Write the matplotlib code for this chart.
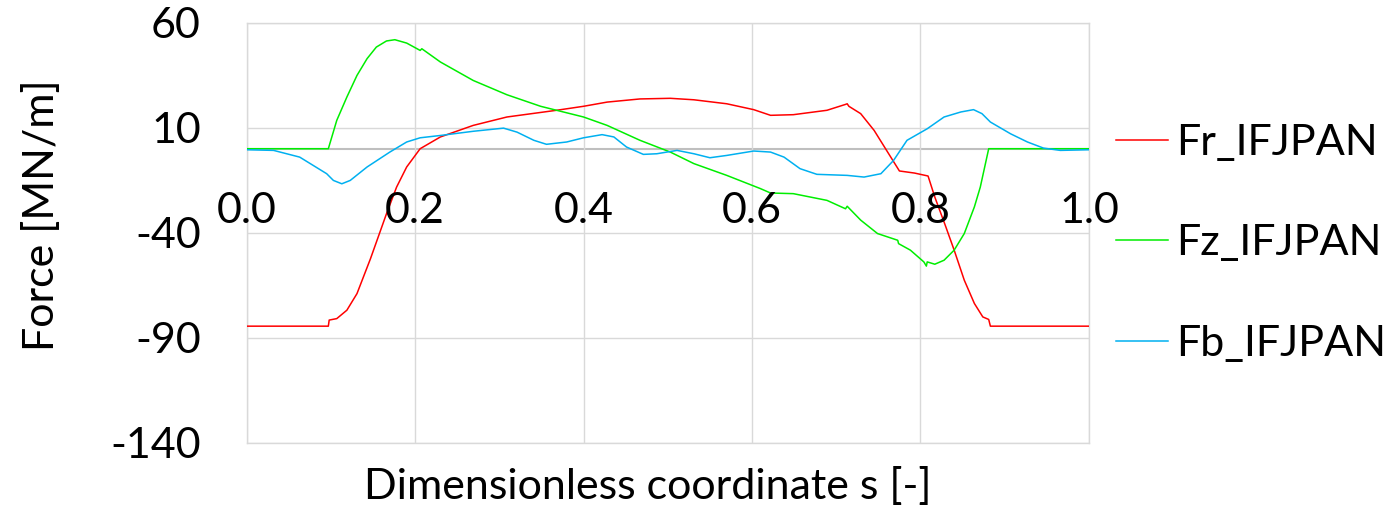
import matplotlib
matplotlib.use("Agg")
import matplotlib.pyplot as plt

# data
fr_s = [0.0, 0.097, 0.098, 0.107, 0.119, 0.131, 0.147, 0.166, 0.178, 0.190, 0.206,
        0.230, 0.269, 0.309, 0.368, 0.400, 0.428, 0.467, 0.503, 0.531, 0.570, 0.602,
        0.622, 0.649, 0.689, 0.711, 0.713, 0.715, 0.729, 0.745, 0.761, 0.775, 0.793,
        0.809, 0.817, 0.829, 0.840, 0.852, 0.864, 0.874, 0.881, 0.883, 1.0]
fr_v = [-84.5, -84.5, -81.6, -80.9, -76.9, -69.0, -52.4, -31.0, -18.3, -8.7, 0.0,
        5.6, 11.1, 15.1, 18.3, 20.2, 22.2, 23.7, 24.0, 23.3, 21.4, 18.6,
        15.9, 16.2, 18.3, 21.1, 21.4, 20.2, 16.7, 8.7, -1.6, -10.6, -11.6,
        -13.0, -23.0, -36.0, -48.3, -62.6, -73.7, -80.1, -81.3, -84.5, -84.5]

fz_s = [0.0, 0.097, 0.107, 0.119, 0.131, 0.143, 0.154, 0.166, 0.176, 0.190, 0.206,
        0.208, 0.230, 0.269, 0.309, 0.349, 0.400, 0.428, 0.467, 0.503, 0.531, 0.570,
        0.610, 0.622, 0.649, 0.689, 0.711, 0.713, 0.729, 0.749, 0.773, 0.774, 0.788,
        0.804, 0.807, 0.808, 0.817, 0.828, 0.840, 0.852, 0.864, 0.871, 0.881, 1.0]
fz_v = [0.0, 0.0, 13.5, 24.6, 34.9, 42.9, 48.4, 51.3, 51.9, 50.3, 46.8,
        47.6, 41.3, 32.5, 25.7, 20.2, 15.1, 11.1, 4.0, -1.6, -7.1, -12.7,
        -19.0, -21.1, -21.4, -24.6, -28.6, -27.4, -34.0, -40.4, -43.6, -45.2, -48.3,
        -53.9, -55.9, -53.9, -55.0, -53.1, -48.3, -40.4, -27.7, -18.3, 0.0, 0.0]

fb_s = [0.0, 0.032, 0.063, 0.095, 0.103, 0.113, 0.123, 0.143, 0.170, 0.190, 0.206,
        0.230, 0.269, 0.305, 0.321, 0.341, 0.356, 0.380, 0.400, 0.422, 0.436, 0.451,
        0.471, 0.487, 0.511, 0.531, 0.550, 0.570, 0.602, 0.622, 0.638, 0.657, 0.677,
        0.713, 0.733, 0.753, 0.768, 0.784, 0.808, 0.828, 0.848, 0.863, 0.873, 0.883,
        0.907, 0.927, 0.946, 0.966, 1.0]
fb_v = [-0.5, -0.8, -4.0, -11.9, -15.1, -16.7, -15.1, -8.7, -1.6, 3.2, 5.2,
        6.3, 8.3, 9.8, 7.9, 4.0, 2.1, 3.2, 5.2, 6.7, 5.6, 0.8,
        -2.7, -2.4, -0.8, -2.4, -4.3, -3.2, -1.1, -1.6, -4.0, -9.5, -12.2,
        -12.7, -13.5, -11.9, -5.6, 4.0, 9.5, 15.1, 17.5, 18.6, 16.7, 12.7,
        7.1, 3.2, 0.3, -0.8, -0.5]

x_ticks = [0.0, 0.2, 0.4, 0.6, 0.8, 1.0]
y_ticks = [-140, -90, -40, 10, 60]

plt.rcParams["font.family"] = ["Lato", "DejaVu Sans"]
plt.rcParams["axes.unicode_minus"] = False
FS = 31
GRID = "#D9D9D9"

fig = plt.figure(figsize=(13.95, 5.08), dpi=100)
ax = fig.add_axes([0.1768, 0.1285, 0.6038, 0.8268])

ax.plot(fr_s, fr_v, color="#FF0000", lw=1.1, label="Fr_IFJPAN", zorder=3)
ax.plot(fz_s, fz_v, color="#00EE00", lw=1.1, label="Fz_IFJPAN", zorder=3)
ax.plot(fb_s, fb_v, color="#00B0F0", lw=1.1, label="Fb_IFJPAN", zorder=3)

ax.set_xlim(0, 1)
ax.set_ylim(-140, 60)
ax.set_xticks(x_ticks)
ax.set_yticks(y_ticks)
ax.grid(True, color=GRID, lw=1.0, zorder=0)
ax.axhline(0, color="#BFBFBF", lw=1.5, zorder=1)

for side in ["top", "right", "left", "bottom"]:
    ax.spines[side].set_color(GRID)
    ax.spines[side].set_linewidth(1.0)

ax.tick_params(axis="both", length=0, labelsize=FS)
ax.tick_params(axis="y", pad=33)
ax.tick_params(axis="x", labelbottom=False)

# x tick labels sit just under the zero line, like Excel's category axis
for t in x_ticks:
    ax.annotate(f"{t:.1f}", xy=(t, 0), xycoords="data", xytext=(0, -45),
                textcoords="offset points", ha="center", va="center",
                fontsize=FS, zorder=4)

fig.text(0.030, 0.577, "Force [MN/m]", rotation=90, fontsize=FS,
         ha="center", va="center")
fig.text(0.464, 0.043, "Dimensionless coordinate s [-]", fontsize=FS,
         ha="center", va="center")

ax.legend(loc="center left", bbox_to_anchor=(1.032, 0.475), frameon=False,
          fontsize=FS, handlelength=1.2, handletextpad=0.19, labelspacing=1.45,
          borderpad=0, borderaxespad=0)

fig.savefig("out.png", dpi=100)
